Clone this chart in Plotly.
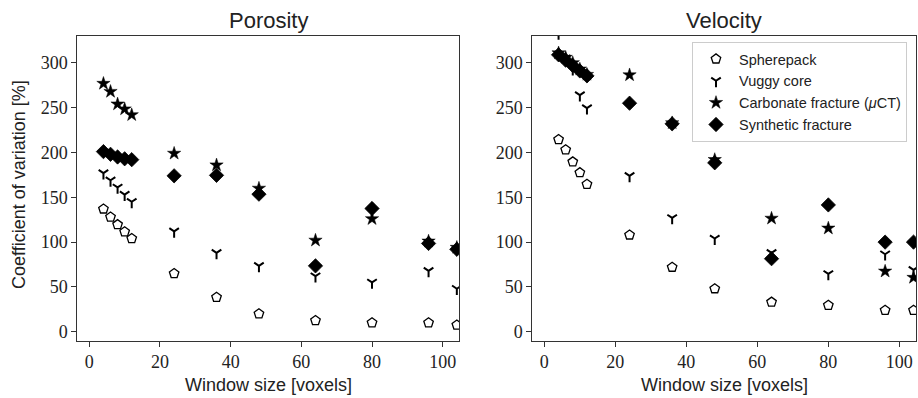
import plotly.graph_objects as go

window = [4, 6, 8, 10, 12, 24, 36, 48, 64, 80, 96, 104]

series_names = ["Spherepack", "Vuggy core", "Carbonate fracture (<i>μ</i>CT)", "Synthetic fracture"]

por_sphere = [137, 128, 119.5, 111.5, 104, 65, 38.5, 20, 12.5, 10, 10, 7.5]
por_vuggy = [177, 169, 161, 153, 145, 112, 88, 73.5, 62, 55, 68, 48]
por_carb = [277, 268, 254, 248.5, 242, 199, 186, 160, 102, 126, 101, 94]
por_synth = [201, 198, 195, 193, 192, 174, 174.5, 153.5, 73.5, 137.5, 98.5, 92]

vel_sphere = [214.5, 203, 189.5, 177.5, 164.5, 108, 72, 48, 33, 29.5, 24, 24]
vel_vuggy = [333, 305, 293, 264, 249.5, 174, 127, 104, 88, 64.5, 86.5, 69]
vel_carb = [311, 306, 300, 293, 287, 286.5, 233, 192, 126.5, 115.5, 67.5, 60.5]
vel_synth = [309, 303, 297, 291, 285.5, 255, 232, 188.5, 81.5, 141.5, 100, 100]

styles = [
    dict(symbol="pentagon", size=10, color="white", line=dict(color="black", width=1.3)),
    dict(symbol="y-down", size=8, color="black", line=dict(color="black", width=2)),
    dict(symbol="star", size=10, color="black", line=dict(color="black", width=0.5)),
    dict(symbol="diamond", size=11, color="black", line=dict(color="black", width=0.8)),
]

W, H = 918, 398


def px(x):
    return x / W


def py(y):
    return 1 - y / H


fig = go.Figure()

left = [por_sphere, por_vuggy, por_carb, por_synth]
right = [vel_sphere, vel_vuggy, vel_carb, vel_synth]
for i, (name, ys) in enumerate(zip(series_names, left)):
    fig.add_trace(go.Scatter(x=window, y=ys, mode="markers", name=name,
                             marker=styles[i], xaxis="x", yaxis="y",
                             showlegend=False, legendgroup=str(i)))
for i, (name, ys) in enumerate(zip(series_names, right)):
    fig.add_trace(go.Scatter(x=window, y=ys, mode="markers", name=name,
                             marker=styles[i], xaxis="x2", yaxis="y2",
                             showlegend=True, legendgroup=str(i)))

tickfont = dict(family="Liberation Serif", size=18, color="#222")
axis_common = dict(
    showline=True, mirror=True, linecolor="#333", linewidth=1,
    ticks="outside", ticklen=5, tickwidth=1, tickcolor="#333",
    showgrid=False, zeroline=False, tickfont=tickfont, automargin=False,
)
xr = [-3.4, 104.7]
yr = [-10, 330]
ydom = [py(340.7), py(36)]
xd1 = [px(77.3), px(459.3)]
xd2 = [px(532.3), px(916)]

fig.update_layout(
    width=W, height=H,
    margin=dict(l=0, r=0, t=0, b=0),
    paper_bgcolor="white", plot_bgcolor="white",
    xaxis=dict(domain=xd1, range=xr, tickvals=[0, 20, 40, 60, 80, 100], anchor="y", **axis_common),
    yaxis=dict(domain=ydom, range=yr, tickvals=[0, 50, 100, 150, 200, 250, 300], anchor="x", **axis_common),
    xaxis2=dict(domain=xd2, range=xr, tickvals=[0, 20, 40, 60, 80, 100], anchor="y2", **axis_common),
    yaxis2=dict(domain=ydom, range=yr, tickvals=[0, 50, 100, 150, 200, 250, 300], anchor="x2", **axis_common),
    legend=dict(x=px(692), y=py(42), xanchor="left", yanchor="top",
                bgcolor="rgba(255,255,255,0.85)", bordercolor="#cccccc", borderwidth=1,
                font=dict(family="Liberation Sans", size=14.5, color="#222"),
                itemwidth=36, tracegroupgap=0),
)

label_font = dict(family="Liberation Sans", size=18, color="#222")
title_font = dict(family="Liberation Sans", size=22, color="#222")
annots = [
    dict(text="Porosity", x=sum(xd1) / 2, y=py(20), font=title_font),
    dict(text="Velocity", x=sum(xd2) / 2, y=py(20), font=title_font),
    dict(text="Window size [voxels]", x=sum(xd1) / 2, y=py(385), font=label_font),
    dict(text="Window size [voxels]", x=sum(xd2) / 2, y=py(385), font=label_font),
    dict(text="Coefficient of variation [%]", x=px(19), y=py(185), font=label_font, textangle=-90),
]
for a in annots:
    fig.add_annotation(xref="paper", yref="paper", showarrow=False,
                       xanchor="center", yanchor="middle", **a)

fig.write_html("out.html",
               config={"displayModeBar": False},
               post_script="document.body.style.margin='0';document.body.style.overflow='hidden';")
